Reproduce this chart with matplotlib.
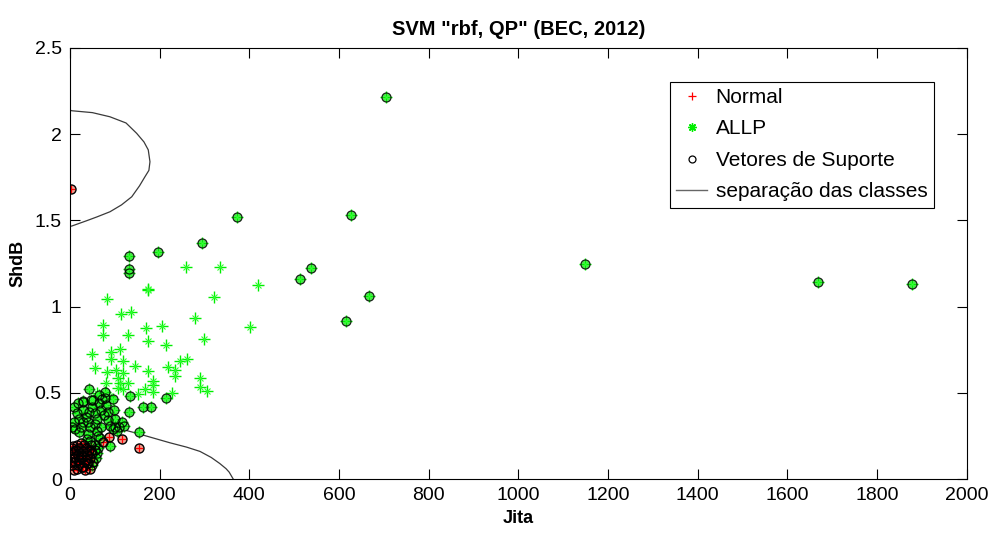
import matplotlib
matplotlib.use("Agg")
import matplotlib.pyplot as plt
from matplotlib.lines import Line2D

plt.rcParams['font.family'] = ['Liberation Sans', 'DejaVu Sans']

# ALLP points that are not support vectors
allp_x = [258.6, 334.4, 419.2, 173.9, 321.8, 81.8, 113, 136.7, 279.4, 72.9, 169.4, 204.4, 401.3,
          72.8, 130, 173.9, 214, 300, 49, 92, 111.5, 92, 117.5, 144, 56.4, 81.8, 101.8, 117.5,
          173.9, 219, 234, 245, 261.6, 234, 107.8, 80.3, 111.5, 130, 184.3, 185.8, 290, 290,
          306, 107.8, 118.9, 167.2, 185.8, 152.4, 226.7, 174.6, 60, 66, 88]
allp_y = [1.231, 1.231, 1.127, 1.102, 1.058, 1.046, 0.955, 0.969, 0.934, 0.891, 0.874, 0.889, 0.880,
          0.837, 0.835, 0.802, 0.777, 0.814, 0.725, 0.739, 0.752, 0.696, 0.684, 0.655, 0.644, 0.623,
          0.632, 0.613, 0.626, 0.651, 0.632, 0.683, 0.694, 0.597, 0.584, 0.559, 0.559, 0.559, 0.568,
          0.545, 0.588, 0.535, 0.512, 0.526, 0.520, 0.520, 0.506, 0.493, 0.497, 1.096, 0.50, 0.47, 0.48]

# ALLP support vectors
allp_sv_x = [704, 626, 537, 513, 666, 615, 1148, 1668, 1877, 371.6, 293.6, 196.9, 131.5, 131.5,
             131.5, 42.4, 77.3, 133.8, 214, 96.6, 28.3, 52, 70.6, 98.8, 130.8, 162, 181.3, 153,
             101, 88.5,
             10, 15, 20, 8, 25, 30, 35, 40, 45, 50, 55, 60, 65, 70, 75, 80, 85, 90, 60, 40, 20,
             12, 55, 70, 95, 105, 115, 30, 48, 65, 78, 85, 62, 5, 18, 42, 28, 100, 110, 120,
             45, 55, 60, 50, 58, 62, 66, 38]
allp_sv_y = [2.218, 1.531, 1.226, 1.158, 1.063, 0.918, 1.249, 1.143, 1.131, 1.518, 1.371, 1.318,
             1.293, 1.216, 1.197, 0.522, 0.506, 0.483, 0.468, 0.464, 0.448, 0.458, 0.462, 0.400,
             0.387, 0.416, 0.416, 0.271, 0.303, 0.193,
             0.42, 0.38, 0.35, 0.33, 0.30, 0.40, 0.36, 0.33, 0.30, 0.42, 0.38, 0.35, 0.44, 0.40,
             0.37, 0.43, 0.34, 0.31, 0.28, 0.26, 0.27, 0.29, 0.32, 0.30, 0.29, 0.28, 0.33, 0.45,
             0.46, 0.49, 0.47, 0.39, 0.25, 0.30, 0.44, 0.39, 0.33, 0.35, 0.30, 0.31,
             0.22, 0.20, 0.15, 0.08, 0.12, 0.18, 0.24, 0.23]

# Normal points (all support vectors)
normal_x = [2, 72.9, 86, 116, 155,
            5, 8, 10, 12, 15, 18, 20, 22, 25, 28, 30, 32, 35, 38, 40, 42, 45, 48, 50, 52, 15, 6,
            25, 35, 44, 10, 20, 30, 12, 55, 3, 7, 17, 27, 37, 47, 4, 14, 24, 34]
normal_y = [1.68, 0.213, 0.245, 0.232, 0.178,
            0.08, 0.12, 0.16, 0.10, 0.06, 0.14, 0.18, 0.09, 0.12, 0.16, 0.07, 0.20, 0.11, 0.14,
            0.09, 0.17, 0.12, 0.20, 0.15, 0.10, 0.20, 0.19, 0.21, 0.18, 0.06, 0.05, 0.11, 0.13,
            0.13, 0.17, 0.10, 0.15, 0.08, 0.07, 0.09, 0.16, 0.18, 0.17, 0.14, 0.05]

# separation curves
upper_x = [0, 3.8, 50, 89, 125, 148.7, 165, 174.6, 178.4, 176, 167.2, 155, 137.8, 115, 89.2, 60,
           37.2, 3.8, 0]
upper_y = [2.14, 2.136, 2.125, 2.101, 2.065, 2.005, 1.955, 1.909, 1.840, 1.790, 1.753, 1.700,
           1.637, 1.590, 1.550, 1.520, 1.498, 1.467, 1.466]
lower_x = [0, 50, 100, 156, 223, 260, 290, 315, 334, 348, 355, 364]
lower_y = [0.34, 0.32, 0.30, 0.26, 0.21, 0.185, 0.16, 0.125, 0.09, 0.06, 0.04, 0.0]

fig = plt.figure(figsize=(9.91, 5.33), dpi=100)
ax = fig.add_axes([0.0706, 0.1013, 0.905, 0.8087])

line_col = '#3a3a3a'
ax.plot(upper_x, upper_y, color=line_col, lw=0.9)
ax.plot(lower_x, lower_y, color=line_col, lw=0.9)

# light fill under support vectors
ax.plot(allp_sv_x, allp_sv_y, 'o', ms=6.5, mfc='#66dd66', mec='none', ls='none')
ax.plot(normal_x, normal_y, 'o', ms=6.5, mfc='#f0a090', mec='none', ls='none')

ax.plot(normal_x, normal_y, '+', color='red', ms=6, mew=0.9, ls='none')
ax.plot(allp_x + allp_sv_x, allp_y + allp_sv_y, marker='+', color='#00ee00', ms=8,
        mew=1.0, ls='none')
ax.plot(allp_x + allp_sv_x, allp_y + allp_sv_y, marker='x', color='#33ff33', ms=4.5,
        mew=0.8, ls='none')

ax.plot(allp_sv_x, allp_sv_y, 'o', ms=6.5, mfc='none', mec='black', mew=0.9, ls='none', alpha=0.85)
ax.plot(normal_x, normal_y, 'o', ms=6.5, mfc='none', mec='black', mew=1.0, ls='none')

ax.set_xlim(0, 2000)
ax.set_ylim(0, 2.5)
ax.set_xticks(range(0, 2001, 200))
ax.set_yticks([0, 0.5, 1, 1.5, 2, 2.5])
ax.set_yticklabels(['0', '0.5', '1', '1.5', '2', '2.5'])
ax.tick_params(direction='in', top=True, right=True, labelsize=14, length=7, width=0.8, pad=6)
for s in ax.spines.values():
    s.set_linewidth(0.8)

ax.set_xlabel('Jita', fontsize=13, fontweight='bold', labelpad=4)
ax.set_ylabel('ShdB', fontsize=13, fontweight='bold', labelpad=6)
ax.set_title('SVM "rbf, QP" (BEC, 2012)', fontsize=14.5, fontweight='bold', pad=9)

handles = [
    Line2D([], [], ls='none', marker='+', color='red', ms=6, mew=0.9),
    Line2D([], [], ls='none', marker=(8, 2, 0), color='#00ee00', ms=6, mew=1.0),
    Line2D([], [], ls='none', marker='o', mfc='none', mec='black', ms=5, mew=0.9),
    Line2D([], [], color='#666666', lw=1.0),
]
labels = ['Normal', 'ALLP', 'Vetores de Suporte', 'separação das classes']
leg = ax.legend(handles, labels, loc='upper right', bbox_to_anchor=(0.963, 0.922),
                fontsize=15, fancybox=False, framealpha=1, edgecolor='black',
                handlelength=1.5, handletextpad=0.4, borderpad=0.3, labelspacing=0.6,
                borderaxespad=0)
leg.get_frame().set_linewidth(0.8)

fig.savefig('out.png', dpi=100)
